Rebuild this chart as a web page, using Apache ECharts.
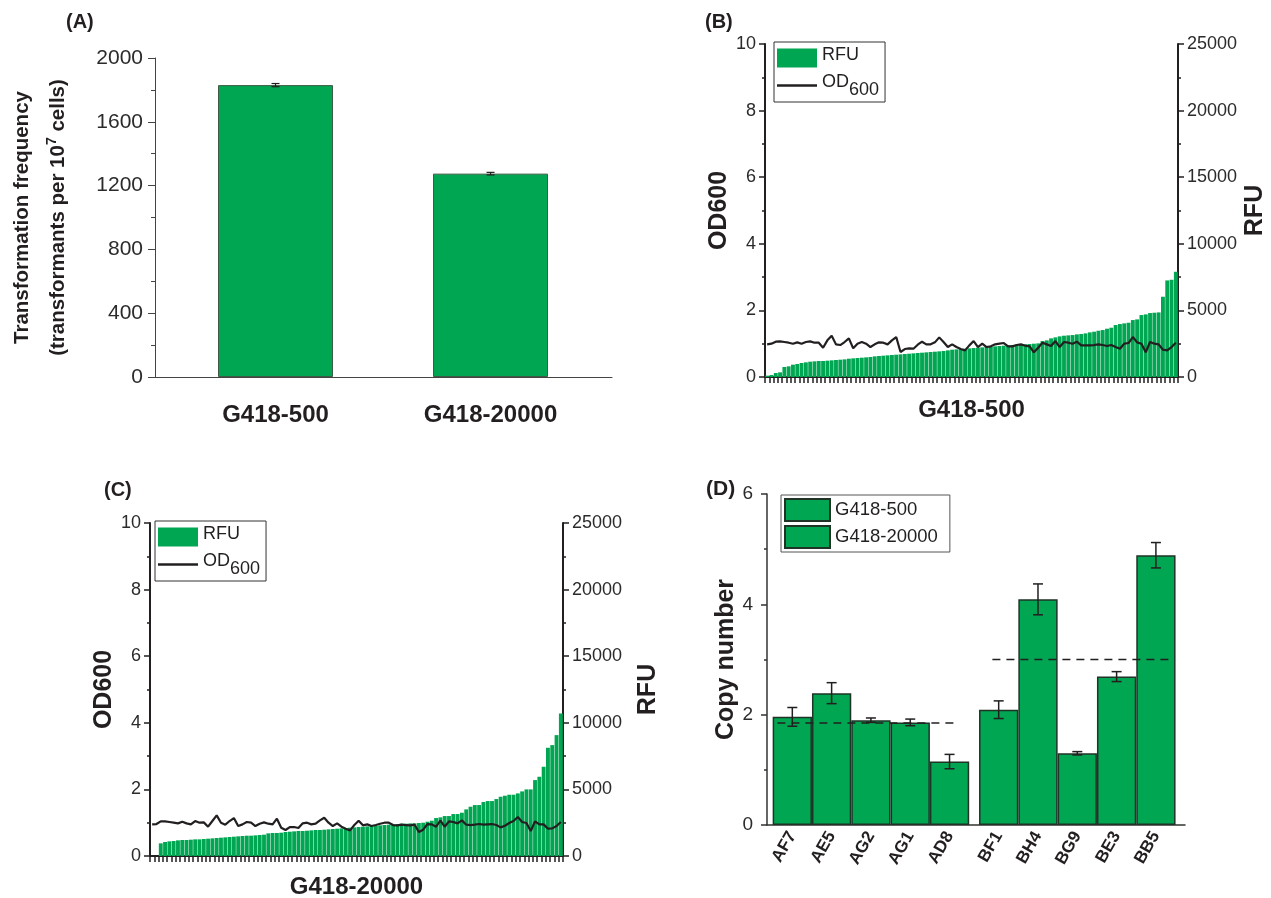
<!DOCTYPE html>
<html>
<head>
<meta charset="utf-8">
<script src="https://cdn.jsdelivr.net/npm/echarts@6/dist/echarts.min.js"></script>
<style>
  html, body { margin: 0; padding: 0; background: #fff; }
  #chart { width: 1271px; height: 898px; }
</style>
</head>
<body>
<div id="chart"></div>
<script>
// ---- (A) transformation frequency ----
const freqCategories = ['G418-500', 'G418-20000'];
const freqValues = [1830, 1275];
const freqErrors = [10, 8];

// ---- (B) G418-500 clones: RFU (bars) and OD600 (line) ----
const rfu500 = [
  100, 150, 300, 350, 750, 800, 925, 975, 1050, 1100,
  1150, 1175, 1200, 1200, 1225, 1250, 1275, 1300, 1325, 1375,
  1400, 1425, 1450, 1475, 1500, 1550, 1575, 1600, 1625, 1650,
  1675, 1700, 1725, 1750, 1775, 1800, 1825, 1850, 1875, 1900,
  1925, 1950, 2000, 2050, 2075, 2100, 2125, 2150, 2175, 2200,
  2225, 2250, 2275, 2300, 2325, 2350, 2375, 2400, 2425, 2450,
  2450, 2475, 2500, 2525, 2700, 2750, 2900, 2975, 3050, 3100,
  3125, 3150, 3200, 3225, 3275, 3350, 3400, 3475, 3525, 3625,
  3700, 3900, 3975, 4025, 4075, 4275, 4325, 4650, 4700, 4800,
  4825, 4850, 6025, 7250, 7300, 7900
];
const od500 = [
  0.98, 1.00, 1.06, 1.07, 1.05, 1.03, 1.00, 1.04, 1.00, 1.05,
  1.07, 1.03, 1.03, 0.88, 1.10, 1.24, 0.98, 0.96, 1.05, 1.16,
  0.86, 1.00, 1.05, 1.00, 0.90, 0.98, 1.04, 1.03, 0.98, 1.10,
  1.20, 0.75, 0.84, 0.86, 0.85, 0.97, 1.06, 0.98, 0.98, 1.04,
  1.19, 1.05, 0.90, 0.98, 0.90, 0.84, 0.80, 0.95, 1.08, 0.90,
  1.00, 0.90, 0.92, 0.98, 1.00, 1.02, 0.92, 0.92, 0.96, 0.98,
  0.94, 0.92, 0.74, 0.88, 1.03, 0.98, 0.93, 1.08, 0.90, 1.05,
  1.03, 1.00, 1.06, 0.95, 0.95, 0.95, 0.96, 0.98, 0.96, 0.93,
  0.96, 0.90, 0.85, 1.00, 1.02, 1.20, 1.04, 1.00, 0.74, 1.05,
  1.00, 0.98, 0.82, 0.80, 0.90, 1.03
];

// ---- (C) G418-20000 clones: RFU (bars) and OD600 (line) ----
const rfu20000 = [
  0, 0, 950, 1050, 1100, 1125, 1175, 1200, 1200, 1225,
  1250, 1250, 1275, 1300, 1325, 1350, 1375, 1400, 1425, 1450,
  1475, 1500, 1525, 1525, 1550, 1575, 1600, 1700, 1725, 1725,
  1750, 1800, 1825, 1850, 1875, 1875, 1900, 1925, 1950, 1950,
  1975, 2000, 2025, 2050, 2075, 2100, 2125, 2150, 2175, 2200,
  2225, 2250, 2275, 2300, 2325, 2350, 2375, 2400, 2425, 2425,
  2450, 2450, 2475, 2500, 2575, 2650, 2850, 2900, 3000, 3000,
  3150, 3150, 3250, 3500, 3700, 3825, 3825, 4050, 4125, 4125,
  4275, 4450, 4525, 4600, 4600, 4700, 4850, 5000, 5000, 5700,
  5950, 6700, 8125, 8325, 9075, 10700
];
const od20000 = [
  0.95, 0.96, 1.04, 1.04, 1.02, 1.00, 0.98, 1.03, 0.98, 0.95,
  1.05, 1.00, 1.01, 0.88, 1.05, 1.22, 1.00, 0.94, 1.05, 1.14,
  0.90, 0.95, 1.02, 1.00, 0.90, 0.97, 1.01, 0.97, 0.95, 1.12,
  0.85, 0.78, 0.87, 0.87, 0.84, 0.98, 1.00, 0.95, 0.97, 1.07,
  1.15, 1.00, 0.90, 0.98, 0.88, 0.82, 0.77, 0.93, 1.06, 0.92,
  0.95, 0.90, 0.93, 0.97, 1.00, 1.00, 0.93, 0.92, 0.94, 0.93,
  0.92, 0.94, 0.72, 0.79, 0.96, 0.95, 0.88, 1.06, 0.88, 1.04,
  1.02, 0.98, 1.07, 0.94, 0.93, 0.94, 0.96, 0.94, 0.95, 0.96,
  0.93, 0.86, 0.91, 0.99, 1.05, 1.17, 1.02, 0.99, 0.75, 1.04,
  0.95, 0.95, 0.82, 0.83, 0.90, 1.02
];

// ---- (D) copy number by clone ----
const cloneNames500 = ['AF7', 'AE5', 'AG2', 'AG1', 'AD8'];
const cloneNames20000 = ['BF1', 'BH4', 'BG9', 'BE3', 'BB5'];
const copy500 = [1.96, 2.39, 1.90, 1.86, 1.15];
const copy500Err = [0.17, 0.19, 0.04, 0.06, 0.13];
const copy20000 = [2.09, 4.09, 1.30, 2.69, 4.89];
const copy20000Err = [0.16, 0.28, 0.03, 0.09, 0.23];
const copyMean500 = 1.85;
const copyMean20000 = 3.0;

// ---- shared styling ----
const FONT = "'Liberation Sans', Arial, Helvetica, sans-serif";
const GREEN = '#00a651';
const INK = '#231f20';
const LABEL = '#2b2b2b';
const LINE_ICON = 'path://M0,0 L40,0 L40,2.4 L0,2.4 Z';
const plain = v => String(v);

const cloneIndex = rfu500.map((_, i) => String(i + 1));

// x positions on the value axes: one unit per bar, with a small gap between the two groups in (D)
const freqPos = freqValues.map((_, i) => i + 1);
const pos500 = copy500.map((_, i) => i + 1);
const pos20000 = copy20000.map((_, i) => i + 6.25);
const allClonePos = pos500.concat(pos20000);
const allCloneNames = cloneNames500.concat(cloneNames20000);

function errorBars(capHalf, width) {
  return function (params, api) {
    const x = api.value(0), lo = api.value(1), hi = api.value(2);
    const top = api.coord([x, hi]);
    const bot = api.coord([x, lo]);
    const style = { stroke: INK, lineWidth: width, fill: null };
    return {
      type: 'group',
      children: [
        { type: 'line', shape: { x1: top[0], y1: top[1], x2: bot[0], y2: bot[1] }, style },
        { type: 'line', shape: { x1: top[0] - capHalf, y1: top[1], x2: top[0] + capHalf, y2: top[1] }, style },
        { type: 'line', shape: { x1: bot[0] - capHalf, y1: bot[1], x2: bot[0] + capHalf, y2: bot[1] }, style }
      ]
    };
  };
}

const legendRich = {
  m: { fontFamily: FONT, fontSize: 18, color: INK, padding: [0, 0, 6, 0] },
  s: { fontFamily: FONT, fontSize: 18, color: INK, padding: [9, 0, 0, 0] }
};
function odLegend(left, top) {
  return {
    left, top, orient: 'vertical',
    itemWidth: 40, itemHeight: 19, itemGap: 6,
    padding: [4, 6, 3, 3],
    borderColor: '#333', borderWidth: 1, backgroundColor: '#fff',
    data: [{ name: 'RFU', icon: 'rect' }, { name: 'OD600', icon: LINE_ICON }],
    formatter: n => n === 'OD600' ? '{m|OD}{s|600}' : '{m|RFU}',
    textStyle: { rich: legendRich },
    selectedMode: false
  };
}

function catX(gridIndex, name, nameGap) {
  return {
    type: 'category', gridIndex, data: cloneIndex,
    axisLine: { lineStyle: { color: INK, width: 2 } },
    axisTick: { show: true, interval: 0, length: 6, lineStyle: { color: INK, width: 1.5 } },
    axisLabel: { show: false },
    splitLine: { show: false },
    name, nameLocation: 'middle', nameGap,
    nameTextStyle: { fontFamily: FONT, fontSize: 24, fontWeight: 'bold', color: INK }
  };
}
function odY(gridIndex, nameGap) {
  return {
    type: 'value', gridIndex, position: 'left', min: 0, max: 10, interval: 2,
    axisLine: { show: true, lineStyle: { color: INK, width: 2 } },
    axisTick: { show: true, length: 6, lineStyle: { color: INK, width: 1.5 } },
    minorTick: { show: true, splitNumber: 2, length: 3, lineStyle: { color: INK, width: 1.5 } },
    axisLabel: { fontFamily: FONT, fontSize: 18, color: LABEL, margin: 9, formatter: plain },
    splitLine: { show: false },
    name: 'OD600', nameLocation: 'middle', nameRotate: 90, nameGap,
    nameTextStyle: { fontFamily: FONT, fontSize: 25, fontWeight: 'bold', color: INK }
  };
}
function rfuY(gridIndex, nameGap) {
  return {
    type: 'value', gridIndex, position: 'right', min: 0, max: 25000, interval: 5000,
    axisLine: { show: true, lineStyle: { color: INK, width: 2 } },
    axisTick: { show: true, length: 6, lineStyle: { color: INK, width: 1.5 } },
    minorTick: { show: true, splitNumber: 2, length: 3, lineStyle: { color: INK, width: 1.5 } },
    axisLabel: { fontFamily: FONT, fontSize: 18, color: LABEL, margin: 9, formatter: plain },
    splitLine: { show: false },
    name: 'RFU', nameLocation: 'middle', nameRotate: 90, nameGap,
    nameTextStyle: { fontFamily: FONT, fontSize: 25, fontWeight: 'bold', color: INK }
  };
}

const option = {
  animation: false,
  backgroundColor: '#fff',
  textStyle: { fontFamily: FONT },
  grid: [
    { left: 155, top: 58, width: 457, height: 319, outerBoundsMode: 'none' },
    { left: 765, top: 44, width: 413, height: 333, outerBoundsMode: 'none' },
    { left: 150, top: 523, width: 413, height: 333, outerBoundsMode: 'none' },
    { left: 767, top: 494, width: 418, height: 331, outerBoundsMode: 'none' }
  ],
  legend: [
    odLegend(774, 42),
    odLegend(155, 521),
    {
      left: 781, top: 495, orient: 'vertical',
      itemWidth: 45, itemHeight: 22, itemGap: 3,
      padding: [3, 12, 3, 3],
      borderColor: '#555', borderWidth: 1, backgroundColor: '#fff',
      data: [{ name: 'G418-500', icon: 'rect' }, { name: 'G418-20000', icon: 'rect' }],
      textStyle: { fontFamily: FONT, fontSize: 18.5, color: INK },
      selectedMode: false
    }
  ],
  xAxis: [
    {
      type: 'value', gridIndex: 0, min: 0.4395, max: 2.565,
      axisLine: { show: true, onZero: false, lineStyle: { color: '#444', width: 1 } },
      axisTick: { show: false },
      splitLine: { show: false },
      axisLabel: {
        customValues: freqPos,
        formatter: v => freqCategories[Math.round(v) - 1] || '',
        fontFamily: FONT, fontSize: 24, fontWeight: 'bold', color: INK, margin: 26
      }
    },
    catX(1, 'G418-500', 21),
    catX(2, 'G418-20000', 19),
    {
      type: 'value', gridIndex: 3, min: 0.356, max: 10.99,
      axisLine: { show: true, onZero: false, lineStyle: { color: '#333', width: 1.5 } },
      axisTick: { show: false },
      splitLine: { show: false },
      axisLabel: {
        customValues: allClonePos,
        formatter: v => {
          const i = allClonePos.findIndex(p => Math.abs(p - v) < 1e-6);
          return i >= 0 ? allCloneNames[i] : '';
        },
        rotate: 60, fontFamily: FONT, fontSize: 17, fontWeight: 'bold', color: INK, margin: 8
      }
    }
  ],
  yAxis: [
    {
      type: 'value', gridIndex: 0, min: 0, max: 2000, interval: 400,
      axisLine: { show: true, lineStyle: { color: '#444', width: 1 } },
      axisTick: { show: true, length: 7, lineStyle: { color: '#444' } },
      minorTick: { show: true, splitNumber: 2, length: 4, lineStyle: { color: '#444' } },
      axisLabel: { fontFamily: FONT, fontSize: 21, color: LABEL, margin: 12, formatter: plain },
      splitLine: { show: false },
      name: '{n|Transformation frequency}\n{n|(transformants per 10}{p|7}{n| cells)}',
      nameLocation: 'middle', nameRotate: 90, nameGap: 79,
      nameTextStyle: {
        rich: {
          n: { fontFamily: FONT, fontSize: 20.5, fontWeight: 'bold', color: INK, lineHeight: 36 },
          p: { fontFamily: FONT, fontSize: 14, fontWeight: 'bold', color: INK, lineHeight: 36, padding: [0, 0, 12, 0] }
        }
      }
    },
    odY(1, 21),
    rfuY(1, 65),
    odY(2, 19),
    rfuY(2, 73),
    {
      type: 'value', gridIndex: 3, min: 0, max: 6, interval: 2,
      axisLine: { show: true, lineStyle: { color: '#333', width: 1.5 } },
      axisTick: { show: true, length: 6, lineStyle: { color: '#333', width: 1.5 } },
      minorTick: { show: true, splitNumber: 2, length: 3, lineStyle: { color: '#333', width: 1.5 } },
      axisLabel: { fontFamily: FONT, fontSize: 19, color: LABEL, margin: 14, formatter: plain },
      splitLine: { show: false },
      name: 'Copy number', nameLocation: 'middle', nameRotate: 90, nameGap: 19,
      nameTextStyle: { fontFamily: FONT, fontSize: 25, fontWeight: 'bold', color: INK }
    }
  ],
  series: [
    // (A)
    {
      type: 'bar', name: 'frequency', xAxisIndex: 0, yAxisIndex: 0, barWidth: 115,
      data: freqValues.map((v, i) => [freqPos[i], v]),
      itemStyle: { color: GREEN, borderColor: '#3d5a45', borderWidth: 1 }
    },
    {
      type: 'custom', name: 'frequency error', xAxisIndex: 0, yAxisIndex: 0,
      renderItem: errorBars(4, 1.2),
      encode: { x: 0, y: [1, 2] },
      data: freqValues.map((v, i) => [freqPos[i], v - freqErrors[i], v + freqErrors[i]]),
      z: 5
    },
    // (B)
    {
      type: 'bar', name: 'RFU', xAxisIndex: 1, yAxisIndex: 2, data: rfu500,
      barCategoryGap: '10%', itemStyle: { color: GREEN }
    },
    {
      type: 'line', name: 'OD600', xAxisIndex: 1, yAxisIndex: 1, data: od500,
      symbol: 'none', showSymbol: false, z: 5,
      lineStyle: { color: INK, width: 2.2 }, itemStyle: { color: INK }
    },
    // (C)
    {
      type: 'bar', name: 'RFU', xAxisIndex: 2, yAxisIndex: 4, data: rfu20000,
      barCategoryGap: '10%', itemStyle: { color: GREEN }
    },
    {
      type: 'line', name: 'OD600', xAxisIndex: 2, yAxisIndex: 3, data: od20000,
      symbol: 'none', showSymbol: false, z: 5,
      lineStyle: { color: INK, width: 2.2 }, itemStyle: { color: INK }
    },
    // (D)
    {
      type: 'bar', name: 'G418-500', xAxisIndex: 3, yAxisIndex: 5, barWidth: 39.3, barGap: '-100%',
      data: copy500.map((v, i) => [pos500[i], v]),
      itemStyle: { color: GREEN, borderColor: '#1f3327', borderWidth: 1.5 }
    },
    {
      type: 'bar', name: 'G418-20000', xAxisIndex: 3, yAxisIndex: 5, barWidth: 39.3, barGap: '-100%',
      data: copy20000.map((v, i) => [pos20000[i], v]),
      itemStyle: { color: GREEN, borderColor: '#1f3327', borderWidth: 1.5 }
    },
    {
      type: 'custom', name: 'copy error', xAxisIndex: 3, yAxisIndex: 5,
      renderItem: errorBars(5, 1.5),
      encode: { x: 0, y: [1, 2] },
      data: copy500.map((v, i) => [pos500[i], v - copy500Err[i], v + copy500Err[i]])
        .concat(copy20000.map((v, i) => [pos20000[i], v - copy20000Err[i], v + copy20000Err[i]])),
      z: 5
    },
    {
      type: 'line', name: 'mean 500', xAxisIndex: 3, yAxisIndex: 5, symbol: 'none', silent: true, z: 6,
      data: [[pos500[0] - 0.38, copyMean500], [pos500[4] + 0.2, copyMean500]],
      lineStyle: { color: INK, width: 1.5, type: [8, 6] }
    },
    {
      type: 'line', name: 'mean 20000', xAxisIndex: 3, yAxisIndex: 5, symbol: 'none', silent: true, z: 6,
      data: [[pos20000[0] - 0.16, copyMean20000], [pos20000[4] + 0.39, copyMean20000]],
      lineStyle: { color: INK, width: 1.5, type: [8, 6] }
    }
  ],
  graphic: [
    { type: 'text', left: 66, top: 12, style: { text: '(A)', font: 'bold 20px ' + FONT, fill: INK } },
    { type: 'text', left: 705, top: 12, style: { text: '(B)', font: 'bold 20px ' + FONT, fill: INK } },
    { type: 'text', left: 104, top: 480, style: { text: '(C)', font: 'bold 20px ' + FONT, fill: INK } },
    { type: 'text', left: 706, top: 479, style: { text: '(D)', font: 'bold 21px ' + FONT, fill: INK } }
  ]
};

const chart = echarts.init(document.getElementById('chart'), null, { renderer: 'canvas' });
chart.setOption(option);
</script>
</body>
</html>
